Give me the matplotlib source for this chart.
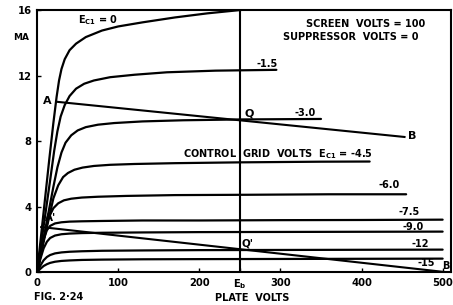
import matplotlib
matplotlib.use("Agg")
import matplotlib.pyplot as plt

# ---- data (plate volts vs plate current mA) ----
v_ec0 = [0, 5, 10, 15, 20, 24, 27, 30, 34, 40, 48, 60, 80, 100, 130, 170, 210, 250, 300, 400, 500]
i_ec0 = [0, 2.3, 4.6, 6.9, 9.1, 10.7, 11.7, 12.4, 13.0, 13.55, 13.95, 14.35, 14.75, 15.0,
         15.25, 15.55, 15.8, 16.0, 16.2, 16.5, 16.8]

v_m1_5 = [0, 8, 16, 21, 25, 29, 34, 40, 48, 58, 70, 90, 120, 160, 220, 295]
i_m1_5 = [0, 2.8, 5.6, 7.4, 8.6, 9.5, 10.2, 10.75, 11.2, 11.5, 11.7, 11.9, 12.05, 12.2, 12.3, 12.35]

v_m3 = [0, 10, 20, 25, 30, 35, 42, 50, 60, 75, 95, 130, 180, 250, 350]
i_m3 = [0, 2.6, 5.2, 6.4, 7.3, 7.9, 8.35, 8.65, 8.85, 9.0, 9.1, 9.2, 9.27, 9.32, 9.35]

v_m4_5 = [0, 10, 20, 26, 32, 38, 46, 56, 70, 90, 120, 170, 250, 350, 410]
i_m4_5 = [0, 2.3, 4.5, 5.3, 5.8, 6.05, 6.25, 6.38, 6.48, 6.55, 6.6, 6.65, 6.7, 6.74, 6.75]

v_m6 = [0, 8, 14, 20, 26, 33, 42, 55, 75, 110, 170, 260, 360, 455]
i_m6 = [0, 2.0, 3.3, 3.9, 4.2, 4.38, 4.48, 4.55, 4.6, 4.65, 4.7, 4.72, 4.75, 4.75]

v_low = [0, 4, 8, 12, 16, 22, 30, 40, 55, 80, 130, 200, 300, 400, 500]
i_m7_5 = [0, 1.1, 2.0, 2.55, 2.82, 2.97, 3.04, 3.08, 3.1, 3.12, 3.15, 3.15, 3.17, 3.18, 3.2]
i_m9 = [0, 0.8, 1.45, 1.85, 2.08, 2.23, 2.31, 2.35, 2.38, 2.4, 2.42, 2.44, 2.45, 2.46, 2.47]
i_m12 = [0, 0.4, 0.72, 0.92, 1.04, 1.14, 1.2, 1.24, 1.27, 1.3, 1.32, 1.34, 1.35, 1.36, 1.37]
i_m15 = [0, 0.2, 0.37, 0.48, 0.56, 0.63, 0.68, 0.71, 0.74, 0.76, 0.78, 0.79, 0.8, 0.81, 0.82]

load1_v = [24, 453]
load1_i = [10.4, 8.25]
load2_v = [5, 503]
load2_i = [2.75, 0]
eb = 250

xticks = [0, 100, 200, 250, 300, 400, 500]
xticklabels = ["0", "100", "200", "E$_\\mathbf{b}$", "300", "400", "500"]
yticks = [0, 4, 8, 12, 16]
yticklabels = ["0", "4", "8", "12", "16"]

# ---- figure ----
plt.rcParams['font.family'] = ['DejaVu Sans']
plt.rcParams['font.weight'] = 'bold'
plt.rcParams['mathtext.default'] = 'bf'

fig = plt.figure(figsize=(4.53, 3.05), dpi=100)
ax = fig.add_axes([0.082, 0.108, 0.913, 0.859])
ax.set_xlim(0, 510)
ax.set_ylim(0, 16)

lw = 1.6
k = 'black'
for v, i in [(v_ec0, i_ec0), (v_m1_5, i_m1_5), (v_m3, i_m3), (v_m4_5, i_m4_5),
             (v_m6, i_m6), (v_low, i_m7_5), (v_low, i_m9), (v_low, i_m12),
             (v_low, i_m15)]:
    ax.plot(v, i, color=k, lw=lw, solid_joinstyle='round', solid_capstyle='round')
ax.plot(load1_v, load1_i, color=k, lw=1.5)
ax.plot(load2_v, load2_i, color=k, lw=1.5)
ax.axvline(eb, color=k, lw=1.5)

for s in ax.spines.values():
    s.set_linewidth(1.5)

ax.set_xticks(xticks)
ax.set_xticklabels(xticklabels)
ax.set_yticks(yticks)
ax.set_yticklabels(yticklabels)
ax.tick_params(direction='in', length=3, width=1, labelsize=7.2, pad=4)
for t in ax.get_xticklabels() + ax.get_yticklabels():
    t.set_fontweight('bold')

fs = 7
def T(x, y, s, ha='center', va='center', size=fs, **kw):
    ax.text(x, y, s, ha=ha, va=va, fontsize=size, fontweight='bold',
            clip_on=False, **kw)

T(50, 15.4, "E$_{C1}$ = 0", ha='left')
T(-20, 14.3, "MA", size=6.5)
T(478, 15.15, "SCREEN  VOLTS = 100", ha='right')
T(470, 14.35, "SUPPRESSOR  VOLTS = 0", ha='right')
T(283, 12.7, "-1.5")
T(330, 9.7, "-3.0")
T(262, 9.7, "Q", size=8)
T(12, 10.45, "A", size=8)
T(462, 8.3, "B", size=8)
T(180, 7.2, "CONTROL  GRID  VOLTS  E$_{C1}$ = -4.5", ha='left')
T(434, 5.3, "-6.0")
T(459, 3.66, "-7.5")
T(464, 2.75, "-9.0")
T(472, 1.7, "-12")
T(480, 0.55, "-15")
T(16, 3.3, "A'", size=7.5)
T(260, 1.77, "Q'", size=7.5)
T(509, 0.4, "B", ha='right', size=7)

fig.text(34/453, 1 - 297/305, "FIG. 2·24", ha='left', va='center',
         fontsize=7, fontweight='bold')
fig.text(252/453, 1 - 298/305, "PLATE  VOLTS", ha='center', va='center',
         fontsize=7, fontweight='bold')

fig.savefig("out.png", dpi=100)
